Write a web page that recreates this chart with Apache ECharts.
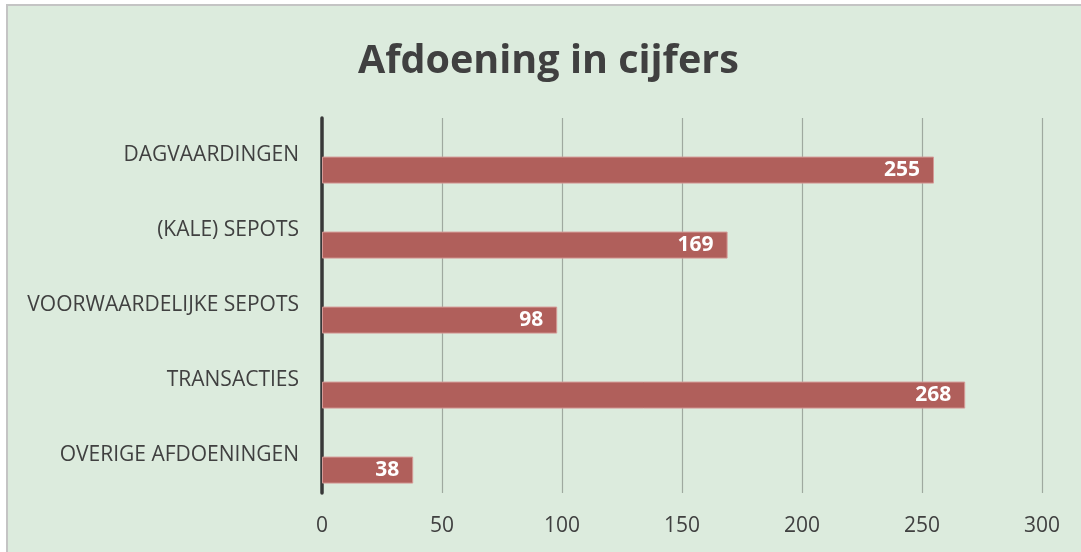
<!DOCTYPE html>
<html><head><meta charset="utf-8">
<script src="https://cdn.jsdelivr.net/npm/echarts@6/dist/echarts.min.js"></script>
<style>html,body{margin:0;padding:0;background:#fff}#c{width:1081px;height:552px}</style>
</head><body><div id="c"></div>
<script>
const categories = ['DAGVAARDINGEN', '(KALE) SEPOTS', 'VOORWAARDELIJKE SEPOTS', 'TRANSACTIES', 'OVERIGE AFDOENINGEN'];
const values = [255, 169, 98, 268, 38];
const xTicks = [0, 50, 100, 150, 200, 250, 300];

const chart = echarts.init(document.getElementById('c'));
chart.setOption({
  backgroundColor: '#ffffff',
  animation: false,
  graphic: [{
    type: 'rect', z: -10, silent: true,
    shape: { x: 7, y: 5, width: 1090, height: 560 },
    style: { fill: '#dcebdd', stroke: '#c4c4c4', lineWidth: 2 }
  }],
  title: {
    text: 'Afdoening in cijfers', left: 353, top: 37,
    textStyle: { fontFamily: 'Open Sans', fontWeight: 'bold', fontSize: 39.5, color: '#404040' }
  },
  grid: { left: 322, right: 39, top: 118, bottom: 59 },
  xAxis: {
    type: 'value', min: xTicks[0], max: xTicks[xTicks.length - 1], interval: 50,
    axisLine: { show: false }, axisTick: { show: false },
    axisLabel: { margin: 23, fontFamily: 'Open Sans', fontSize: 21, color: '#404040' },
    splitLine: { show: true, lineStyle: { color: '#9fa99f', width: 1.2 } }
  },
  yAxis: {
    type: 'category', data: categories, inverse: true,
    axisLine: { show: true, lineStyle: { color: '#383838', width: 3.5 } },
    axisTick: { show: false },
    axisLabel: { margin: 23, fontFamily: 'Open Sans', fontSize: 21, color: '#404040' }
  },
  series: [
    { type: 'bar', name: 'leeg', data: [], barWidth: 27, barGap: '8%' },
    {
      type: 'bar', name: 'Afdoening', data: values, barWidth: 27, barGap: '8%',
      itemStyle: { color: '#b05f5b', borderColor: '#d49a97', borderWidth: 1 },
      label: {
        show: true, position: 'insideRight', distance: 14,
        fontFamily: 'Open Sans', fontWeight: 'bold', fontSize: 21, color: '#ffffff'
      }
    }
  ]
});
</script></body></html>
